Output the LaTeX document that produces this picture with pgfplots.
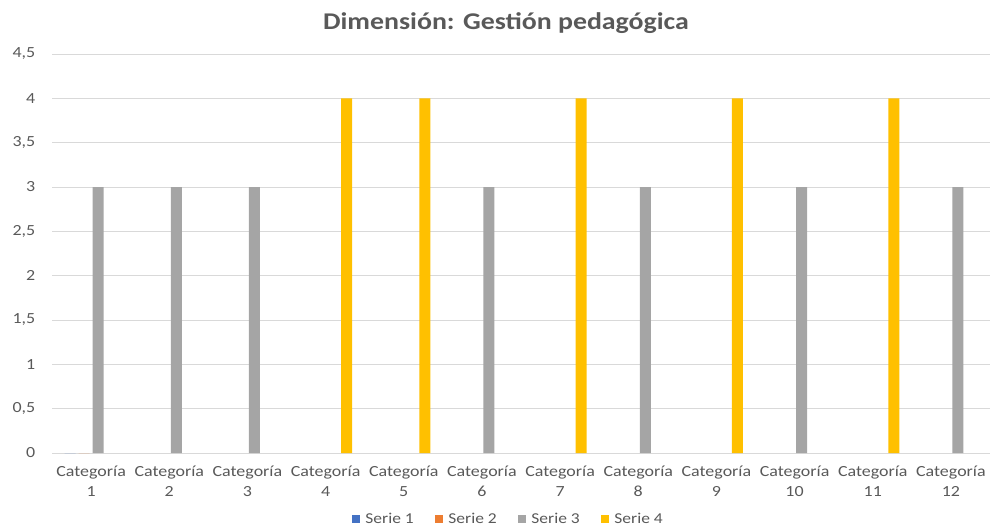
\documentclass[border=0pt]{standalone}
\usepackage{pgfplots}
\pgfplotsset{compat=1.18}
\usepackage{fontspec}
\setmainfont[FakeStretch=1.16]{Carlito}
\definecolor{txt}{HTML}{595959}
\definecolor{gridc}{HTML}{D9D9D9}
\definecolor{s1}{HTML}{4472C4}
\definecolor{s2}{HTML}{ED7D31}
\definecolor{s3}{HTML}{A5A5A5}
\definecolor{s4}{HTML}{FFC000}
\begin{document}
\begin{tikzpicture}[x=0.75pt,y=0.75pt]
\useasboundingbox (0,0) rectangle (993,529);
\begin{axis}[
  at={(39pt,57pt)}, anchor=south west,
  scale only axis,
  width=703.5pt, height=299.25pt,
  ybar=2.25pt, bar width=8.25pt,
  xmin=0.5, xmax=12.5,
  ymin=0, ymax=4.5,
  ytick distance=0.5,
  xtick={1,...,12},
  xticklabels={Categoría\\1,Categoría\\2,Categoría\\3,Categoría\\4,Categoría\\5,Categoría\\6,Categoría\\7,Categoría\\8,Categoría\\9,Categoría\\10,Categoría\\11,Categoría\\12},
  xticklabel style={align=center, font=\fontsize{11.6}{15}\selectfont, text=txt, yshift=-6pt},
  yticklabel style={font=\fontsize{11.6}{14}\selectfont, text=txt, xshift=-9pt},
  /pgf/number format/.cd, use comma, fixed, precision=1, assume math mode=true, /pgfplots/.cd,
  xmajorgrids=false, ymajorgrids=true,
  major grid style={draw=gridc, line width=0.75pt},
  major tick length=0pt,
  tick style={draw=none},
  axis line style={draw=none},
  title={\textbf{Dimensión: Gestión pedagógica}},
  title style={font=\fontsize{18}{21}\selectfont, text=txt, at={(0.484,1)}, anchor=center, yshift=17pt},
  legend style={at={(0.487,-0.165)}, anchor=center, draw=none, legend columns=4,
    font=\fontsize{11.3}{13}\selectfont, text=txt,
    /tikz/every odd column/.append style={column sep=2pt},
    /tikz/every even column/.append style={column sep=14pt}},
  legend image code/.code={\fill[#1] (0pt,-3pt) rectangle (6pt,3pt);},
  clip=false,
]
\draw[gridc, line width=0.75pt] (axis cs:0.5,0) -- (axis cs:12.5,0);
\addplot[fill=s1, draw=none] coordinates {(1,0)};
\addplot[fill=s2, draw=none] coordinates {(1,0)};
\addplot[fill=s3, draw=none] coordinates {(1,3) (2,3) (3,3) (6,3) (8,3) (10,3) (12,3)};
\addplot[fill=s4, draw=none] coordinates {(4,4) (5,4) (7,4) (9,4) (11,4)};
\legend{Serie 1,Serie 2,Serie 3,Serie 4}
\end{axis}
\end{tikzpicture}
\end{document}
